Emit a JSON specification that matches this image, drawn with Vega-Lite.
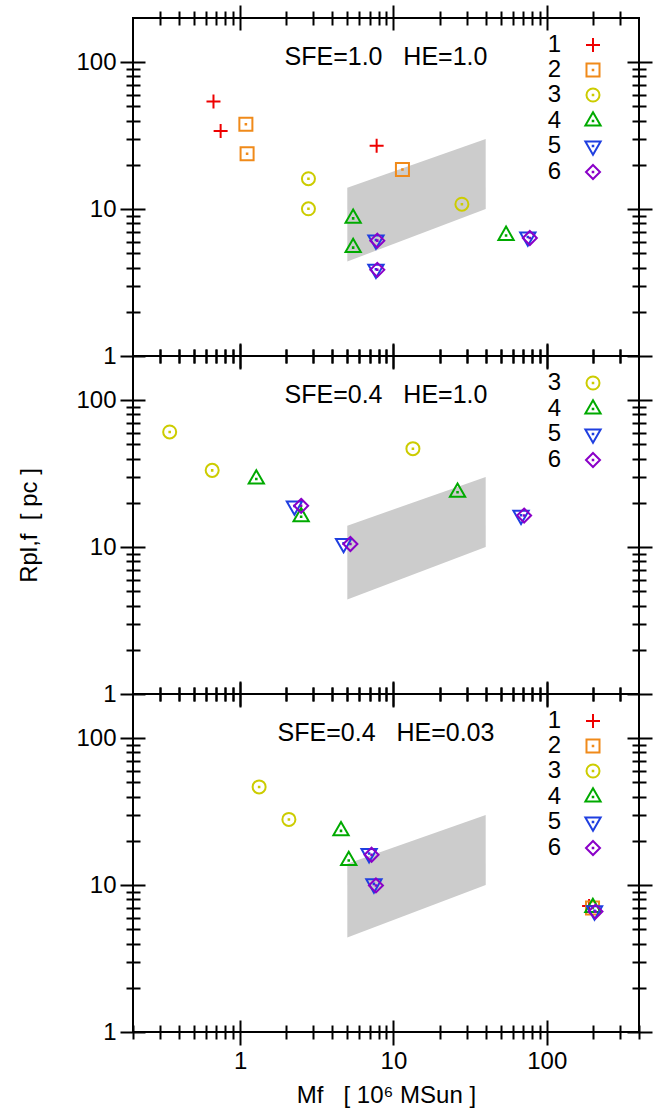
{
  "padding": {"left": 16, "top": 3, "right": 0, "bottom": 0},
  "datasets": {
    "band": [
      {"M": 5, "lo": 4.4, "hi": 14},
      {"M": 40, "lo": 10, "hi": 30}
    ],
    "p1": [
      {"s": "1", "M": 0.67, "R": 54}, {"s": "1", "M": 0.746, "R": 34}, {"s": "1", "M": 7.77, "R": 27},
      {"s": "2", "M": 1.09, "R": 37.8}, {"s": "2", "M": 1.11, "R": 23.8}, {"s": "2", "M": 11.45, "R": 18.6},
      {"s": "3", "M": 2.79, "R": 16.1}, {"s": "3", "M": 2.79, "R": 10.05}, {"s": "3", "M": 27.97, "R": 10.8},
      {"s": "4", "M": 5.46, "R": 8.65}, {"s": "4", "M": 5.46, "R": 5.47}, {"s": "4", "M": 54.3, "R": 6.62},
      {"s": "5", "M": 7.69, "R": 6.17}, {"s": "5", "M": 7.69, "R": 3.9}, {"s": "5", "M": 75.3, "R": 6.46},
      {"s": "6", "M": 7.85, "R": 6.1}, {"s": "6", "M": 7.85, "R": 3.86}, {"s": "6", "M": 77.6, "R": 6.36}
    ],
    "p2": [
      {"s": "3", "M": 0.347, "R": 60.8}, {"s": "3", "M": 0.657, "R": 33.3}, {"s": "3", "M": 13.4, "R": 46.8},
      {"s": "4", "M": 1.275, "R": 29.1}, {"s": "4", "M": 2.5, "R": 16.1}, {"s": "4", "M": 26.2, "R": 23.6},
      {"s": "5", "M": 2.26, "R": 19.05}, {"s": "5", "M": 4.73, "R": 10.6}, {"s": "5", "M": 68.0, "R": 16.5},
      {"s": "6", "M": 2.5, "R": 19.1}, {"s": "6", "M": 5.24, "R": 10.5}, {"s": "6", "M": 71.2, "R": 16.4}
    ],
    "p3": [
      {"s": "1", "M": 189, "R": 7.2},
      {"s": "2", "M": 199, "R": 6.98},
      {"s": "3", "M": 1.33, "R": 46.6}, {"s": "3", "M": 2.08, "R": 28.0},
      {"s": "4", "M": 4.55, "R": 23.4}, {"s": "4", "M": 5.11, "R": 14.7}, {"s": "4", "M": 200, "R": 7.03},
      {"s": "5", "M": 6.94, "R": 16.4}, {"s": "5", "M": 7.46, "R": 10.2}, {"s": "5", "M": 205, "R": 6.68},
      {"s": "6", "M": 7.2, "R": 16.1}, {"s": "6", "M": 7.69, "R": 9.95}, {"s": "6", "M": 208, "R": 6.6}
    ]
  },
  "spacing": 0,
  "bounds": "flush",
  "resolve": {
    "scale": {"color": "independent", "shape": "independent"},
    "legend": {"color": "independent", "shape": "independent"}
  },
  "vconcat": [
    {
      "width": 506, "height": 338,
      "title": {"text": "SFE=1.0\u00a0\u00a0\u00a0HE=1.0", "frame": "group", "anchor": "middle", "baseline": "alphabetic", "offset": -86},
      "layer": [
        {
          "data": {"name": "band"},
          "mark": {"type": "area", "color": "#cccccc", "opacity": 1},
          "encoding": {
            "x": {"field": "M", "type": "quantitative", "scale": {"type": "log", "domain": [0.2, 400], "nice": false}, "axis": {"orient": "bottom", "values": [1, 10, 100], "offset": -12, "tickSize": 25, "labels": false, "title": null}},
            "y": {"field": "lo", "type": "quantitative", "scale": {"type": "log", "domain": [1, 200], "nice": false}, "axis": {"orient": "left", "values": [1, 10, 100], "offset": -12, "tickSize": 25, "labelExpr": "'' + datum.value", "title": null}},
            "y2": {"field": "hi"}
          }
        },
        {
          "data": {"name": "p1"},
          "mark": {"type": "point", "filled": false, "strokeWidth": 2, "size": 196, "opacity": 1},
          "encoding": {
            "x": {"field": "M", "type": "quantitative", "scale": {"type": "log", "domain": [0.2, 400], "nice": false}, "axis": {"orient": "bottom", "values": [0.3, 0.4, 0.5, 0.6, 0.7, 0.8, 0.9, 2, 3, 4, 5, 6, 7, 8, 9, 20, 30, 40, 50, 60, 70, 80, 90, 200, 300], "offset": -7, "tickSize": 14, "labels": false, "title": null}},
            "y": {"field": "R", "type": "quantitative", "scale": {"type": "log", "domain": [1, 200], "nice": false}, "axis": {"orient": "left", "values": [2, 3, 4, 5, 6, 7, 8, 9, 20, 30, 40, 50, 60, 70, 80, 90], "offset": -7, "tickSize": 14, "labels": false, "title": null}},
            "color": {"field": "s", "type": "nominal", "scale": {"domain": ["1", "2", "3", "4", "5", "6"], "range": ["#ee0000", "#f08a1a", "#cccc00", "#00aa00", "#1f3fe0", "#8a00c8"]}, "legend": {"title": null, "orient": "none", "legendX": 448, "legendY": 15, "labelAlign": "right", "labelOffset": -44, "symbolSize": 196, "symbolStrokeWidth": 2, "rowPadding": 1, "padding": 0}},
            "shape": {"field": "s", "type": "nominal", "scale": {"domain": ["1", "2", "3", "4", "5", "6"], "range": ["M-1,0L1,0M0,-1L0,1", "M-0.93,-0.93L0.93,-0.93L0.93,0.93L-0.93,0.93Z M-0.04,-0.04L0.04,-0.04L0.04,0.04L-0.04,0.04Z", "M-0.93,0A0.93,0.93,0,1,1,0.93,0A0.93,0.93,0,1,1,-0.93,0Z M-0.04,-0.04L0.04,-0.04L0.04,0.04L-0.04,0.04Z", "M0,-1.26L1.09,0.64L-1.09,0.64Z M-0.04,-0.04L0.04,-0.04L0.04,0.04L-0.04,0.04Z", "M0,1.26L1.09,-0.64L-1.09,-0.64Z M-0.04,-0.04L0.04,-0.04L0.04,0.04L-0.04,0.04Z", "M0,-1L1,0L0,1L-1,0Z M-0.04,-0.04L0.04,-0.04L0.04,0.04L-0.04,0.04Z"]}, "legend": {"title": null, "orient": "none", "legendX": 448, "legendY": 15, "labelAlign": "right", "labelOffset": -44, "symbolSize": 196, "symbolStrokeWidth": 2, "rowPadding": 1, "padding": 0}}
          }
        },
        {
          "data": {"name": "band"},
          "mark": {"type": "point", "opacity": 0},
          "encoding": {
            "x": {"field": "M", "type": "quantitative", "scale": {"type": "log", "domain": [0.2, 400], "nice": false}, "axis": {"orient": "top", "values": [1, 10, 100], "offset": -12, "tickSize": 25, "labels": false, "title": null}},
            "y": {"field": "lo", "type": "quantitative", "scale": {"type": "log", "domain": [1, 200], "nice": false}, "axis": {"orient": "right", "values": [1, 10, 100], "offset": -12, "tickSize": 25, "labels": false, "title": null}}
          }
        },
        {
          "data": {"name": "band"},
          "mark": {"type": "point", "opacity": 0},
          "encoding": {
            "x": {"field": "M", "type": "quantitative", "scale": {"type": "log", "domain": [0.2, 400], "nice": false}, "axis": {"orient": "top", "values": [0.3, 0.4, 0.5, 0.6, 0.7, 0.8, 0.9, 2, 3, 4, 5, 6, 7, 8, 9, 20, 30, 40, 50, 60, 70, 80, 90, 200, 300], "offset": -7, "tickSize": 14, "labels": false, "title": null}},
            "y": {"field": "lo", "type": "quantitative", "scale": {"type": "log", "domain": [1, 200], "nice": false}, "axis": {"orient": "right", "values": [2, 3, 4, 5, 6, 7, 8, 9, 20, 30, 40, 50, 60, 70, 80, 90], "offset": -7, "tickSize": 14, "labels": false, "title": null}}
          }
        }
      ],
      "resolve": {"axis": {"x": "independent", "y": "independent"}}
    },
    {
      "width": 506, "height": 338,
      "title": {"text": "SFE=0.4\u00a0\u00a0\u00a0HE=1.0", "frame": "group", "anchor": "middle", "baseline": "alphabetic", "offset": -86},
      "layer": [
        {
          "data": {"name": "band"},
          "mark": {"type": "area", "color": "#cccccc", "opacity": 1},
          "encoding": {
            "x": {"field": "M", "type": "quantitative", "scale": {"type": "log", "domain": [0.2, 400], "nice": false}, "axis": {"orient": "bottom", "values": [1, 10, 100], "offset": -12, "tickSize": 25, "labels": false, "title": null}},
            "y": {"field": "lo", "type": "quantitative", "scale": {"type": "log", "domain": [1, 200], "nice": false}, "axis": {"orient": "left", "values": [1, 10, 100], "offset": -12, "tickSize": 25, "labelExpr": "'' + datum.value", "title": "Rpl,f\u00a0\u00a0[ pc ]", "titlePadding": 34}},
            "y2": {"field": "hi"}
          }
        },
        {
          "data": {"name": "p2"},
          "mark": {"type": "point", "filled": false, "strokeWidth": 2, "size": 196, "opacity": 1},
          "encoding": {
            "x": {"field": "M", "type": "quantitative", "scale": {"type": "log", "domain": [0.2, 400], "nice": false}, "axis": {"orient": "bottom", "values": [0.3, 0.4, 0.5, 0.6, 0.7, 0.8, 0.9, 2, 3, 4, 5, 6, 7, 8, 9, 20, 30, 40, 50, 60, 70, 80, 90, 200, 300], "offset": -7, "tickSize": 14, "labels": false, "title": null}},
            "y": {"field": "R", "type": "quantitative", "scale": {"type": "log", "domain": [1, 200], "nice": false}, "axis": {"orient": "left", "values": [2, 3, 4, 5, 6, 7, 8, 9, 20, 30, 40, 50, 60, 70, 80, 90], "offset": -7, "tickSize": 14, "labels": false, "title": null}},
            "color": {"field": "s", "type": "nominal", "scale": {"domain": ["3", "4", "5", "6"], "range": ["#cccc00", "#00aa00", "#1f3fe0", "#8a00c8"]}, "legend": {"title": null, "orient": "none", "legendX": 448, "legendY": 15, "labelAlign": "right", "labelOffset": -44, "symbolSize": 196, "symbolStrokeWidth": 2, "rowPadding": 1, "padding": 0}},
            "shape": {"field": "s", "type": "nominal", "scale": {"domain": ["3", "4", "5", "6"], "range": ["M-0.93,0A0.93,0.93,0,1,1,0.93,0A0.93,0.93,0,1,1,-0.93,0Z M-0.04,-0.04L0.04,-0.04L0.04,0.04L-0.04,0.04Z", "M0,-1.26L1.09,0.64L-1.09,0.64Z M-0.04,-0.04L0.04,-0.04L0.04,0.04L-0.04,0.04Z", "M0,1.26L1.09,-0.64L-1.09,-0.64Z M-0.04,-0.04L0.04,-0.04L0.04,0.04L-0.04,0.04Z", "M0,-1L1,0L0,1L-1,0Z M-0.04,-0.04L0.04,-0.04L0.04,0.04L-0.04,0.04Z"]}, "legend": {"title": null, "orient": "none", "legendX": 448, "legendY": 15, "labelAlign": "right", "labelOffset": -44, "symbolSize": 196, "symbolStrokeWidth": 2, "rowPadding": 1, "padding": 0}}
          }
        },
        {
          "data": {"name": "band"},
          "mark": {"type": "point", "opacity": 0},
          "encoding": {
            "x": {"field": "M", "type": "quantitative", "scale": {"type": "log", "domain": [0.2, 400], "nice": false}, "axis": {"orient": "top", "values": [1, 10, 100], "offset": -12, "tickSize": 25, "labels": false, "title": null}},
            "y": {"field": "lo", "type": "quantitative", "scale": {"type": "log", "domain": [1, 200], "nice": false}, "axis": {"orient": "right", "values": [1, 10, 100], "offset": -12, "tickSize": 25, "labels": false, "title": null}}
          }
        },
        {
          "data": {"name": "band"},
          "mark": {"type": "point", "opacity": 0},
          "encoding": {
            "x": {"field": "M", "type": "quantitative", "scale": {"type": "log", "domain": [0.2, 400], "nice": false}, "axis": {"orient": "top", "values": [0.3, 0.4, 0.5, 0.6, 0.7, 0.8, 0.9, 2, 3, 4, 5, 6, 7, 8, 9, 20, 30, 40, 50, 60, 70, 80, 90, 200, 300], "offset": -7, "tickSize": 14, "labels": false, "title": null}},
            "y": {"field": "lo", "type": "quantitative", "scale": {"type": "log", "domain": [1, 200], "nice": false}, "axis": {"orient": "right", "values": [2, 3, 4, 5, 6, 7, 8, 9, 20, 30, 40, 50, 60, 70, 80, 90], "offset": -7, "tickSize": 14, "labels": false, "title": null}}
          }
        }
      ],
      "resolve": {"axis": {"x": "independent", "y": "independent"}}
    },
    {
      "width": 506, "height": 338,
      "title": {"text": "SFE=0.4\u00a0\u00a0\u00a0HE=0.03", "frame": "group", "anchor": "middle", "baseline": "alphabetic", "offset": -86},
      "layer": [
        {
          "data": {"name": "band"},
          "mark": {"type": "area", "color": "#cccccc", "opacity": 1},
          "encoding": {
            "x": {"field": "M", "type": "quantitative", "scale": {"type": "log", "domain": [0.2, 400], "nice": false}, "axis": {"orient": "bottom", "values": [1, 10, 100], "offset": -12, "tickSize": 25, "labelExpr": "'' + datum.value", "title": "Mf\u00a0\u00a0\u00a0[ 10⁶ MSun ]", "titlePadding": 10}},
            "y": {"field": "lo", "type": "quantitative", "scale": {"type": "log", "domain": [1, 200], "nice": false}, "axis": {"orient": "left", "values": [1, 10, 100], "offset": -12, "tickSize": 25, "labelExpr": "'' + datum.value", "title": null}},
            "y2": {"field": "hi"}
          }
        },
        {
          "data": {"name": "p3"},
          "mark": {"type": "point", "filled": false, "strokeWidth": 2, "size": 196, "opacity": 1},
          "encoding": {
            "x": {"field": "M", "type": "quantitative", "scale": {"type": "log", "domain": [0.2, 400], "nice": false}, "axis": {"orient": "bottom", "values": [0.2, 0.3, 0.4, 0.5, 0.6, 0.7, 0.8, 0.9, 2, 3, 4, 5, 6, 7, 8, 9, 20, 30, 40, 50, 60, 70, 80, 90, 200, 300, 400], "offset": -7, "tickSize": 14, "labels": false, "title": null}},
            "y": {"field": "R", "type": "quantitative", "scale": {"type": "log", "domain": [1, 200], "nice": false}, "axis": {"orient": "left", "values": [2, 3, 4, 5, 6, 7, 8, 9, 20, 30, 40, 50, 60, 70, 80, 90], "offset": -7, "tickSize": 14, "labels": false, "title": null}},
            "color": {"field": "s", "type": "nominal", "scale": {"domain": ["1", "2", "3", "4", "5", "6"], "range": ["#ee0000", "#f08a1a", "#cccc00", "#00aa00", "#1f3fe0", "#8a00c8"]}, "legend": {"title": null, "orient": "none", "legendX": 448, "legendY": 15, "labelAlign": "right", "labelOffset": -44, "symbolSize": 196, "symbolStrokeWidth": 2, "rowPadding": 1, "padding": 0}},
            "shape": {"field": "s", "type": "nominal", "scale": {"domain": ["1", "2", "3", "4", "5", "6"], "range": ["M-1,0L1,0M0,-1L0,1", "M-0.93,-0.93L0.93,-0.93L0.93,0.93L-0.93,0.93Z M-0.04,-0.04L0.04,-0.04L0.04,0.04L-0.04,0.04Z", "M-0.93,0A0.93,0.93,0,1,1,0.93,0A0.93,0.93,0,1,1,-0.93,0Z M-0.04,-0.04L0.04,-0.04L0.04,0.04L-0.04,0.04Z", "M0,-1.26L1.09,0.64L-1.09,0.64Z M-0.04,-0.04L0.04,-0.04L0.04,0.04L-0.04,0.04Z", "M0,1.26L1.09,-0.64L-1.09,-0.64Z M-0.04,-0.04L0.04,-0.04L0.04,0.04L-0.04,0.04Z", "M0,-1L1,0L0,1L-1,0Z M-0.04,-0.04L0.04,-0.04L0.04,0.04L-0.04,0.04Z"]}, "legend": {"title": null, "orient": "none", "legendX": 448, "legendY": 15, "labelAlign": "right", "labelOffset": -44, "symbolSize": 196, "symbolStrokeWidth": 2, "rowPadding": 1, "padding": 0}}
          }
        },
        {
          "data": {"name": "band"},
          "mark": {"type": "point", "opacity": 0},
          "encoding": {
            "x": {"field": "M", "type": "quantitative", "scale": {"type": "log", "domain": [0.2, 400], "nice": false}, "axis": {"orient": "top", "values": [1, 10, 100], "offset": -12, "tickSize": 25, "labels": false, "title": null}},
            "y": {"field": "lo", "type": "quantitative", "scale": {"type": "log", "domain": [1, 200], "nice": false}, "axis": {"orient": "right", "values": [1, 10, 100], "offset": -12, "tickSize": 25, "labels": false, "title": null}}
          }
        },
        {
          "data": {"name": "band"},
          "mark": {"type": "point", "opacity": 0},
          "encoding": {
            "x": {"field": "M", "type": "quantitative", "scale": {"type": "log", "domain": [0.2, 400], "nice": false}, "axis": {"orient": "top", "values": [0.3, 0.4, 0.5, 0.6, 0.7, 0.8, 0.9, 2, 3, 4, 5, 6, 7, 8, 9, 20, 30, 40, 50, 60, 70, 80, 90, 200, 300], "offset": -7, "tickSize": 14, "labels": false, "title": null}},
            "y": {"field": "lo", "type": "quantitative", "scale": {"type": "log", "domain": [1, 200], "nice": false}, "axis": {"orient": "right", "values": [2, 3, 4, 5, 6, 7, 8, 9, 20, 30, 40, 50, 60, 70, 80, 90], "offset": -7, "tickSize": 14, "labels": false, "title": null}}
          }
        }
      ],
      "resolve": {"axis": {"x": "independent", "y": "independent"}}
    }
  ],
  "config": {
    "font": "Liberation Sans",
    "view": {"stroke": "black", "strokeWidth": 2},
    "axis": {"grid": false, "domain": false, "tickColor": "black", "tickWidth": 2, "labelFont": "Liberation Sans", "labelFontSize": 24, "labelColor": "black", "labelPadding": 4, "labelFlush": false, "labelOverlap": false, "titleFont": "Liberation Sans", "titleFontSize": 24, "titleFontWeight": "normal", "titleColor": "black"},
    "legend": {"labelFont": "Liberation Sans", "labelFontSize": 24, "labelColor": "black"},
    "title": {"font": "Liberation Sans", "fontSize": 25, "fontWeight": "normal", "color": "black"}
  }
}
